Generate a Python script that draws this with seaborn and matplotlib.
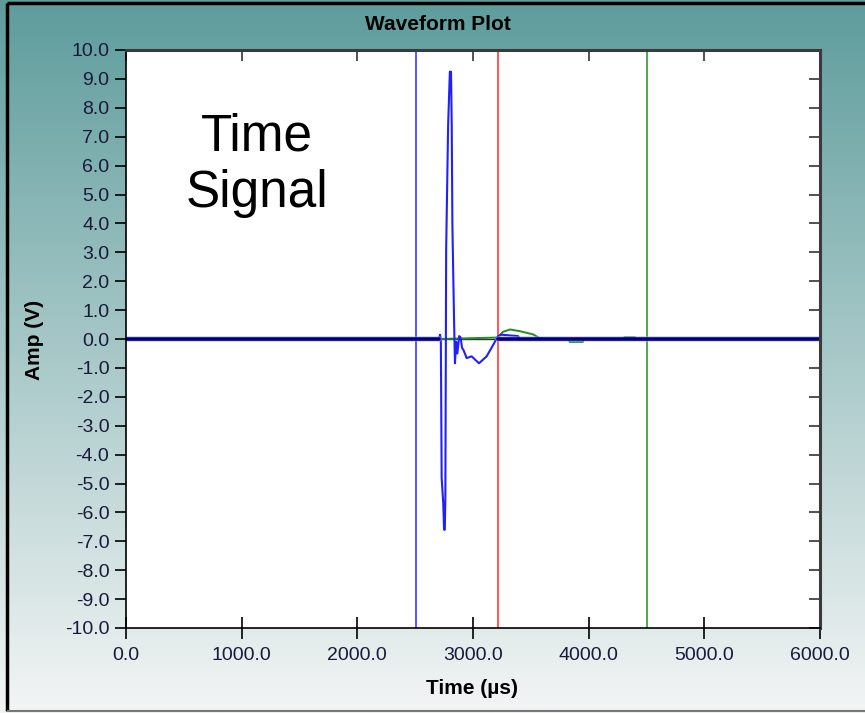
import numpy as np
import pandas as pd
import matplotlib
matplotlib.use("Agg")
import matplotlib.pyplot as plt
import seaborn as sns
from matplotlib.lines import Line2D
from matplotlib.ticker import FormatStrFormatter

# ---------------- data ----------------
x_ticks = [0, 1000, 2000, 3000, 4000, 5000, 6000]
y_ticks = list(range(-10, 11))

# main (blue) waveform, time in µs, amplitude in V
blue_time = [0, 2705, 2715, 2722, 2729, 2743, 2750, 2756, 2761, 2768, 2785, 2800,
             2810, 2816, 2822, 2836, 2844, 2855, 2865, 2880, 2893, 2905, 2920,
             2945, 2988, 3052, 3118, 3175, 3213, 3240, 3300, 3390, 3406, 6000]
blue_amp = [0, 0, 0.15, 0.0, -4.8, -5.7, -6.6, -6.6, -5.5, 3.1, 7.4, 9.25,
            9.25, 7.4, 3.9, 0.7, -0.84, -0.1, -0.5, 0.1, 0.05, -0.3, -0.4,
            -0.66, -0.6, -0.84, -0.6, -0.2, 0.08, 0.15, 0.13, 0.1, 0.0, 0]

# second (green) waveform
green_time = [2700, 3213, 3260, 3320, 3406, 3519, 3580, 3600, 3830, 3835, 3950,
              3955, 4300, 4310, 4400, 4405, 6000]
green_amp = [0, 0.05, 0.25, 0.33, 0.27, 0.16, 0.02, 0, 0, -0.1, -0.1,
             0, 0, 0.06, 0.06, 0, 0]

# quiet-channel baseline (two segments)
base_time = [0, 2705, 3215, 6000]
base_amp = [0, 0, 0, 0]
base_seg = [0, 0, 1, 1]

# cursors
cursor_pos = [2510, 3215, 4500]
cursor_col = ["#3a3aff", "#ff3b3b", "#2f9a2f"]

text_lines = "Time\nSignal"

# ---------------- figure ----------------
sns.set_style("white")
plt.rcParams["font.family"] = ["Liberation Sans", "DejaVu Sans"]

W, H = 865, 713
fig = plt.figure(figsize=(W / 100, H / 100), dpi=100)

# gradient background
bg = fig.add_axes([0, 0, 1, 1], zorder=-10)
top = np.array([94, 156, 156]) / 255
bot = np.array([243, 245, 245]) / 255
t = np.linspace(0, 1, 256)[:, None]
grad = (top[None, :] * (1 - t) + bot[None, :] * t)[:, None, :]
bg.imshow(grad, aspect="auto", extent=[0, 1, 0, 1], origin="upper")
bg.set_axis_off()

# frame lines
fig.add_artist(Line2D([7 / W, 1], [1 - 3 / H, 1 - 3 / H], color="black", lw=2.5,
                      transform=fig.transFigure, solid_capstyle="butt"))
fig.add_artist(Line2D([7 / W, 7 / W], [1 - 711 / H, 1 - 3 / H], color="black", lw=2.5,
                      transform=fig.transFigure, solid_capstyle="butt"))
fig.add_artist(Line2D([7 / W, 1], [1 - 711 / H, 1 - 711 / H], color="#777777", lw=1.5,
                      transform=fig.transFigure, solid_capstyle="butt"))

left, right, topp, bottom = 126, 820, 50, 628
ax = fig.add_axes([left / W, 1 - bottom / H, (right - left) / W, (bottom - topp) / H])
ax.set_facecolor("white")

# zero line
sns.lineplot(x=[0, 6000], y=[0, 0], ax=ax, color="#333333", lw=1.0, zorder=2)

for xc, c in zip(cursor_pos, cursor_col):
    ax.axvline(xc, color=c, lw=1.2, zorder=3)

sns.lineplot(x=green_time, y=green_amp, ax=ax, sort=False, estimator=None,
             color="#1f8f1f", lw=1.4, zorder=6)
sns.lineplot(x=blue_time, y=blue_amp, ax=ax, sort=False, estimator=None,
             color="#1f1fff", lw=1.5, zorder=7)

base_df = pd.DataFrame({"t": base_time, "a": base_amp, "s": base_seg})
sns.lineplot(data=base_df, x="t", y="a", units="s", estimator=None, sort=False,
             ax=ax, color="#a8a8ff", lw=4.2, alpha=0.5, zorder=8)
sns.lineplot(data=base_df, x="t", y="a", units="s", estimator=None, sort=False,
             ax=ax, color="#00007a", lw=2.6, zorder=8.5)

ax.set_xlim(0, 6000)
ax.set_ylim(-10, 10)
ax.set_xticks(x_ticks)
ax.set_yticks(y_ticks)
ax.xaxis.set_major_formatter(FormatStrFormatter("%.1f"))
ax.yaxis.set_major_formatter(FormatStrFormatter("%.1f"))
ax.set_xlabel("")
ax.set_ylabel("")

lab_col = "#1a1a3a"
ax.tick_params(axis="y", which="major", left=True, right=False, direction="out",
               length=8, width=1.2, color="black", labelsize=14, labelcolor=lab_col, pad=4)
ax.tick_params(axis="x", which="major", bottom=True, top=False, direction="inout",
               length=16, width=1.2, color="black", labelsize=14, labelcolor=lab_col, pad=6)

sec_y = ax.secondary_yaxis("right")
sec_y.set_yticks(y_ticks)
sec_y.tick_params(direction="in", length=8, width=1.2, color="#333333", labelright=False)
sec_y.spines["right"].set_visible(False)
sec_x = ax.secondary_xaxis("top")
sec_x.set_xticks(x_ticks)
sec_x.tick_params(direction="in", length=8, width=1.2, color="#333333", labeltop=False)
sec_x.spines["top"].set_visible(False)

for s in ["left", "bottom"]:
    ax.spines[s].set_color("black")
    ax.spines[s].set_linewidth(1.2)
for s in ["top", "right"]:
    ax.spines[s].set_color("#3a3a3a")
    ax.spines[s].set_linewidth(2.2)
for s in ax.spines.values():
    s.set_zorder(10)

ax.text(1130, 6.0, text_lines, ha="center", va="center", fontsize=37,
        color="black", zorder=9, linespacing=1.2)

fig.text(438 / W, 1 - 24 / H, "Waveform Plot", ha="center", va="center",
         fontsize=15, fontweight="bold", color="black")
fig.text(472 / W, 1 - 688 / H, "Time (µs)", ha="center", va="center",
         fontsize=15, fontweight="bold", color="black")
fig.text(34 / W, 1 - 340 / H, "Amp (V)", ha="center", va="center", rotation=90,
         fontsize=15, fontweight="bold", color="black")

fig.savefig("out.png", dpi=100)
